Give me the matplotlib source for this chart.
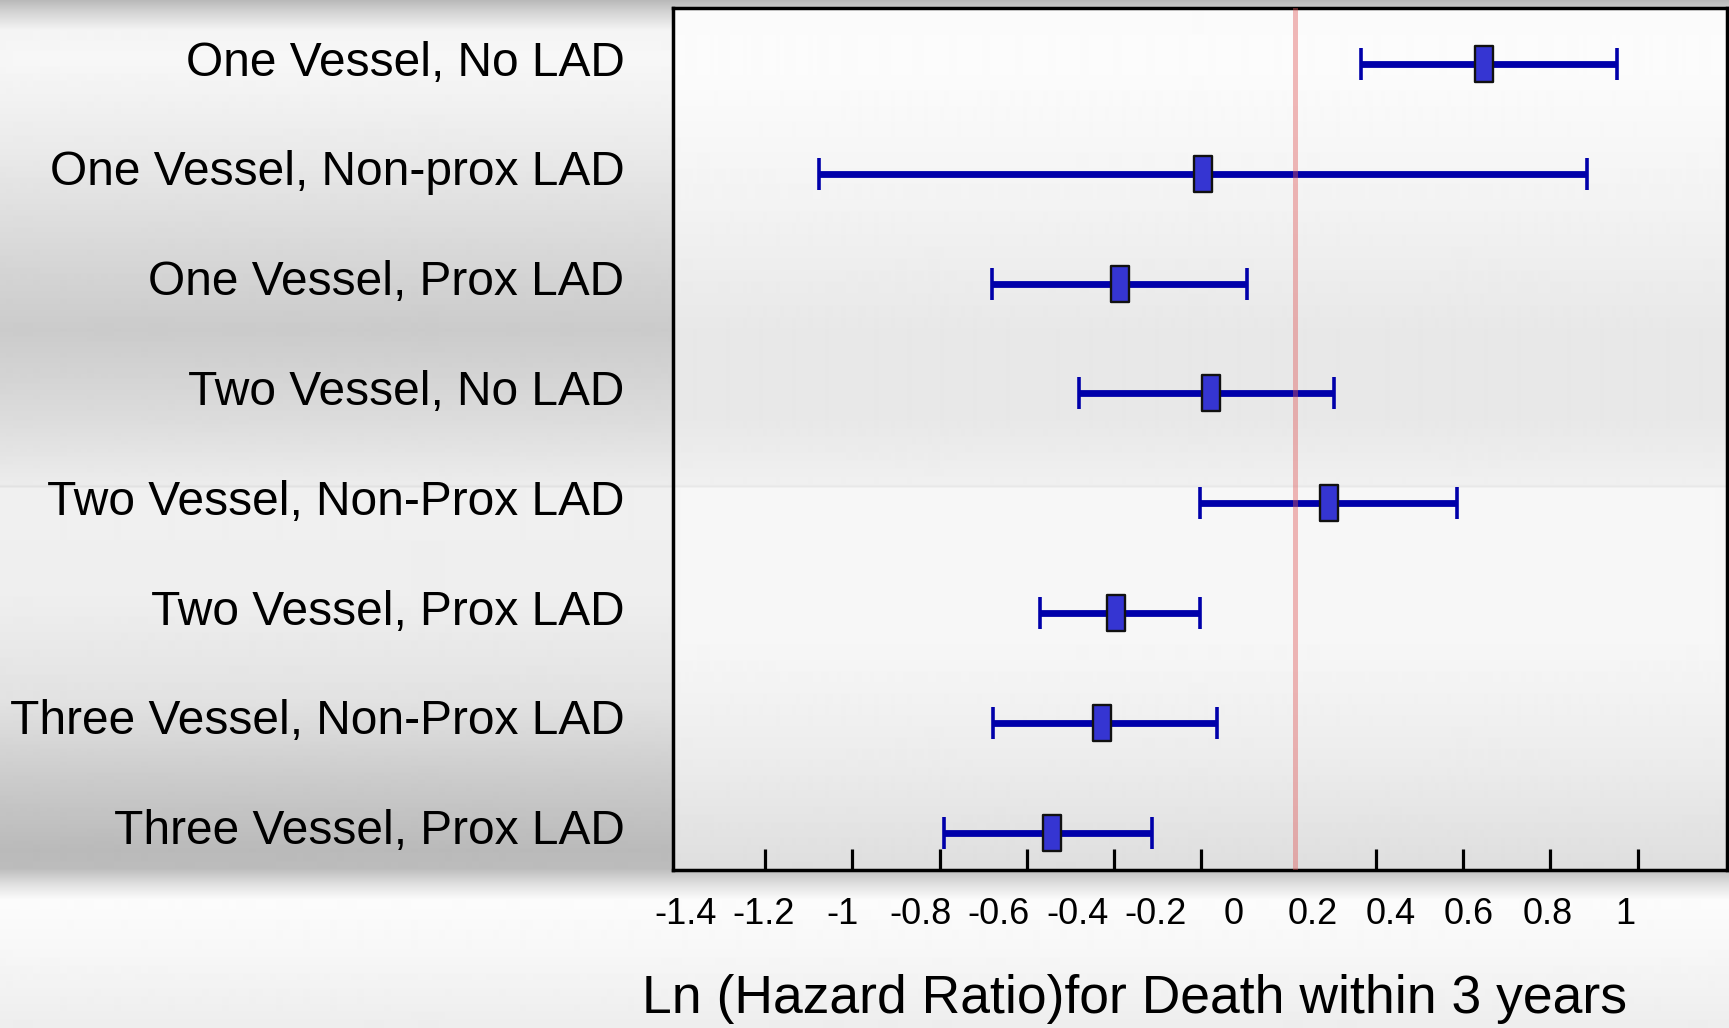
import numpy as np
import matplotlib
matplotlib.use("Agg")
import matplotlib.pyplot as plt
from matplotlib.path import Path
from matplotlib.transforms import ScaledTranslation
from matplotlib.ticker import FixedLocator, FixedFormatter

plt.rcParams['font.family'] = ['Liberation Sans', 'DejaVu Sans']

# ---- data -------------------------------------------------------------
categories = [
    "One Vessel, No LAD",
    "One Vessel, Non-prox LAD",
    "One Vessel, Prox LAD",
    "Two Vessel, No LAD",
    "Two Vessel, Non-Prox LAD",
    "Two Vessel, Prox LAD",
    "Three Vessel, Non-Prox LAD",
    "Three Vessel, Prox LAD",
]
ln_hr = [0.447, -0.195, -0.386, -0.178, 0.092, -0.396, -0.427, -0.542]
ci_low = [0.165, -1.077, -0.679, -0.481, -0.203, -0.569, -0.678, -0.789]
ci_high = [0.753, 0.685, -0.095, 0.105, 0.385, -0.203, -0.163, -0.313]

tick_marks = [-1.2, -1.0, -0.8, -0.6, -0.4, -0.2, 0.2, 0.4, 0.6, 0.8]
scale_values = [-1.4, -1.2, -1.0, -0.8, -0.6, -0.4, -0.2, 0.0, 0.2, 0.4, 0.6, 0.8, 1.0]
scale_labels = ["-1.4", "-1.2", "-1", "-0.8", "-0.6", "-0.4", "-0.2", "0",
                "0.2", "0.4", "0.6", "0.8", "1"]
ref_line = 0.015

x_label = "Ln (Hazard Ratio)for Death within 3 years"

# ---- figure -----------------------------------------------------------
W, H = 1729, 1028
fig = plt.figure(figsize=(W / 100, H / 100), dpi=100)

# vertical grey shading of the whole slide
bg_y = [0, 12, 30, 60, 150, 250, 330, 420, 484, 486, 488, 600, 700, 780, 850, 868, 885, 900, 950, 1028]
bg_g = [185, 212, 244, 247, 234, 216, 203, 220, 236, 226, 240, 238, 226, 203, 186, 188, 226, 252, 247, 237]
rows = np.arange(H)
bg = np.interp(rows, bg_y, bg_g).reshape(-1, 1)
bg_ax = fig.add_axes([0, 0, 1, 1], zorder=-10)
bg_ax.imshow(bg, cmap="gray", vmin=0, vmax=255, aspect="auto",
             extent=[0, 1, 0, 1], interpolation="bilinear")
bg_ax.set_axis_off()

# plot panel
left_px, right_px, top_px, bottom_px = 673, 1727, 8, 870
ax = fig.add_axes([left_px / W, 1 - bottom_px / H,
                   (right_px - left_px) / W, (bottom_px - top_px) / H])

pan_y = [8, 60, 200, 330, 420, 484, 486, 488, 650, 760, 870]
pan_g = [250, 252, 243, 232, 232, 240, 232, 247, 246, 236, 222]
prow = np.arange(top_px, bottom_px)
pan = np.interp(prow, pan_y, pan_g).reshape(-1, 1)
ax.imshow(pan, cmap="gray", vmin=0, vmax=255, aspect="auto",
          extent=[0, 1, 0, 1], transform=ax.transAxes, zorder=0,
          interpolation="bilinear")
ax.patch.set_visible(False)

y = np.arange(len(categories))
est = np.array(ln_hr)
lo = est - np.array(ci_low)
hi = np.array(ci_high) - est

ax.errorbar(est, y, xerr=[lo, hi], fmt="none", ecolor="#0000aa",
            elinewidth=4.9, capsize=11.8, capthick=2.6, zorder=3)

# tall rectangular point marker
box = Path([(-0.25, -0.5), (0.25, -0.5), (0.25, 0.5), (-0.25, 0.5), (-0.25, -0.5)],
           [Path.MOVETO, Path.LINETO, Path.LINETO, Path.LINETO, Path.CLOSEPOLY])
ax.plot(est, y, linestyle="none", marker=box, markersize=25.5,
        markerfacecolor="#3535d2", markeredgecolor="#111111",
        markeredgewidth=1.7, zorder=4)

ax.axvline(ref_line, color=(0.88, 0.35, 0.35, 0.42), linewidth=3.6, zorder=5)

ax.set_xlim(-1.411, 1.005)
ax.set_ylim(7.34, -0.51)

ax.xaxis.set_major_locator(FixedLocator(tick_marks))
ax.xaxis.set_major_formatter(FixedFormatter([""] * len(tick_marks)))
ax.tick_params(axis="x", direction="in", length=15, width=2.3, color="black")

ax.set_yticks(y)
ax.set_yticklabels(categories, fontsize=34.5)
ax.tick_params(axis="y", length=0, pad=35)
for lab in ax.get_yticklabels():
    lab.set_transform(lab.get_transform() + ScaledTranslation(0, 0.06, fig.dpi_scale_trans))

for sp in ax.spines.values():
    sp.set_linewidth(2.5)
    sp.set_color("black")

# numeric scale printed beneath the panel
def to_scale(x):
    return (np.asarray(x) + 0.125) / 0.898


def from_scale(v):
    return np.asarray(v) * 0.898 - 0.125


sec = ax.secondary_xaxis("bottom", functions=(to_scale, from_scale))
sec.xaxis.set_major_locator(FixedLocator(scale_values))
sec.xaxis.set_major_formatter(FixedFormatter(scale_labels))
sec.tick_params(axis="x", length=0, pad=19.5, labelsize=26)
sec.spines["bottom"].set_visible(False)

fig.text(1134 / W, 1 - 999 / H, x_label, fontsize=38.5, ha="center", va="center")

fig.savefig("out.png", dpi=100)
